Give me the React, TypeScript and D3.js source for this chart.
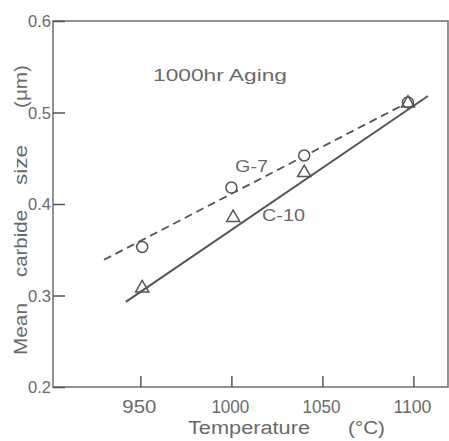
import { useEffect, useRef } from "react";
import * as d3 from "d3";

const xTicks = [950, 1000, 1050, 1100];
const yTicks = [0.2, 0.3, 0.4, 0.5, 0.6];

// G-7 (circles) and C-10 (triangles)
const g7Temps = [951, 1000, 1040, 1097];
const g7Sizes = [0.353, 0.418, 0.453, 0.511];
const c10Temps = [951, 1001, 1040, 1097];
const c10Sizes = [0.307, 0.384, 0.433, 0.509];

// fitted lines: end points
const g7FitTemps = [930, 1097];
const g7FitSizes = [0.339, 0.511];
const c10FitTemps = [942, 1108];
const c10FitSizes = [0.293, 0.518];

const W = 449;
const H = 441;
const ink = "#555";
const textInk = "#6a6a6a";
const font = "'Liberation Sans', Arial, sans-serif";

export default function App() {
  const svgRef = useRef<SVGSVGElement>(null);

  useEffect(() => {
    const svg = d3.select(svgRef.current);
    svg.selectAll("*").remove();

    const margin = { top: 21, right: 1, bottom: 54, left: 53 };
    const x = d3.scaleLinear().domain([902, 1119]).range([margin.left, W - margin.right]);
    const y = d3.scaleLinear().domain([0.2, 0.6]).range([H - margin.bottom, margin.top]);

    svg.append("rect").attr("width", W).attr("height", H).attr("fill", "#fff");

    // frame
    svg.append("rect")
      .attr("x", x(902))
      .attr("y", y(0.6))
      .attr("width", x(1119) - x(902))
      .attr("height", y(0.2) - y(0.6))
      .attr("fill", "none")
      .attr("stroke", "#777")
      .attr("stroke-width", 1.6);

    // x ticks (inward)
    const xa = svg.append("g").attr("transform", `translate(0,${y(0.2)})`)
      .call(d3.axisTop(x).tickValues(xTicks).tickSize(11).tickFormat(() => ""));
    xa.select(".domain").remove();
    xa.selectAll("line").attr("stroke", ink).attr("stroke-width", 1.5);

    svg.append("g").selectAll("text")
      .data(xTicks)
      .join("text")
      .attr("x", d => x(d) - 1)
      .attr("y", 413)
      .attr("text-anchor", "middle")
      .attr("font-family", font)
      .attr("font-size", 19)
      .attr("fill", textInk)
      .attr("textLength", d => (d >= 1000 ? 38 : 34))
      .attr("lengthAdjust", "spacingAndGlyphs")
      .text(d => d);

    // y ticks (inward)
    const ya = svg.append("g").attr("transform", `translate(${x(902)},0)`)
      .call(d3.axisRight(y).tickValues(yTicks).tickSize(12).tickFormat(() => ""));
    ya.select(".domain").remove();
    ya.selectAll("line").attr("stroke", ink).attr("stroke-width", 1.5);

    svg.append("g").selectAll("text")
      .data(yTicks)
      .join("text")
      .attr("x", 51)
      .attr("y", d => y(d) + 6)
      .attr("text-anchor", "end")
      .attr("font-family", font)
      .attr("font-size", 17)
      .attr("fill", textInk)
      .attr("textLength", 23)
      .attr("lengthAdjust", "spacingAndGlyphs")
      .text(d => d3.format(".1f")(d));

    // fitted lines
    const line = d3.line<[number, number]>().x(d => x(d[0])).y(d => y(d[1]));
    svg.append("path")
      .attr("d", line(d3.zip(g7FitTemps, g7FitSizes) as [number, number][]))
      .attr("fill", "none")
      .attr("stroke", ink)
      .attr("stroke-width", 1.8)
      .attr("stroke-dasharray", "8,5");
    svg.append("path")
      .attr("d", line(d3.zip(c10FitTemps, c10FitSizes) as [number, number][]))
      .attr("fill", "none")
      .attr("stroke", ink)
      .attr("stroke-width", 2);

    // markers
    svg.append("g").selectAll("circle")
      .data(d3.zip(g7Temps, g7Sizes))
      .join("circle")
      .attr("cx", d => x(d[0]))
      .attr("cy", d => y(d[1]))
      .attr("r", 5.5)
      .attr("fill", "#fff")
      .attr("stroke", ink)
      .attr("stroke-width", 1.5);

    const tri = d3.symbol().type(d3.symbolTriangle).size(75);
    svg.append("g").selectAll("path")
      .data(d3.zip(c10Temps, c10Sizes))
      .join("path")
      .attr("d", tri)
      .attr("transform", d => `translate(${x(d[0])},${y(d[1]) - 1})`)
      .attr("fill", "none")
      .attr("stroke", ink)
      .attr("stroke-width", 1.5);

    const label = (t: string, px: number, py: number, size: number, len: number) =>
      svg.append("text")
        .attr("x", px)
        .attr("y", py)
        .attr("font-family", font)
        .attr("font-size", size)
        .attr("fill", textInk)
        .attr("textLength", len)
        .attr("lengthAdjust", "spacingAndGlyphs")
        .text(t);

    label("1000hr Aging", 153, 81, 17, 134);
    label("G-7", 235, 172, 17, 33);
    label("C-10", 262, 221, 17, 43);
    label("Temperature", 188, 434, 18, 122);
    label("(°C)", 348, 434, 18, 37);

    // y axis title, word by word
    const yWords = ["Mean", "carbide", "size", "(μm)"];
    const yWordStarts = [355, 277, 185, 108];
    const yWordLens = [52, 67, 40, 43];
    svg.append("g")
      .attr("transform", "rotate(-90)")
      .selectAll("text")
      .data(yWords)
      .join("text")
      .attr("x", (d, i) => -yWordStarts[i])
      .attr("y", 27)
      .attr("font-family", font)
      .attr("font-size", 18)
      .attr("fill", textInk)
      .attr("textLength", (d, i) => yWordLens[i])
      .attr("lengthAdjust", "spacingAndGlyphs")
      .text(d => d);
  }, []);

  return (
    <svg
      ref={svgRef}
      width={W}
      height={H}
      style={{ position: "absolute", left: 0, top: 0 }}
    />
  );
}
